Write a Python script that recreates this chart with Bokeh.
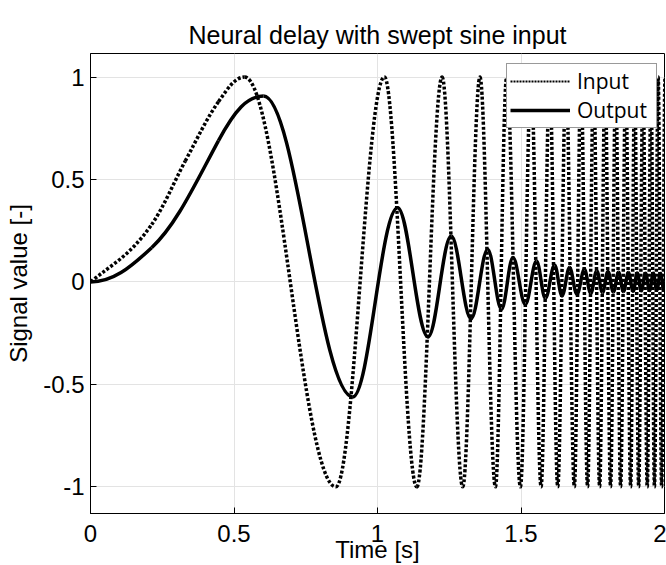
import numpy as np
from bokeh.plotting import figure
from bokeh.models import (ColumnDataSource, Legend, LegendItem, FixedTicker,
                          Range1d, Title)
from bokeh.embed import file_html
from bokeh.resources import INLINE

# ---------------- data ----------------
# Input (swept sine): knot times [s] and values [-]; knots after the first
# four are the extrema of the sweep (slope 0 there).
input_t = [0.000, 0.213, 0.330, 0.446, 0.537, 0.855, 1.024, 1.137, 1.225, 1.297,
           1.357, 1.411, 1.450, 1.498, 1.535, 1.570, 1.600, 1.628, 1.657, 1.686,
           1.709, 1.732, 1.753, 1.774, 1.793, 1.812, 1.830, 1.847, 1.865, 1.882,
           1.896, 1.910, 1.925, 1.940, 1.953, 1.965, 1.978, 1.990, 2.002]
input_v = [0.00, 0.28, 0.59, 0.88, 1, -1, 1, -1, 1, -1,
           1, -1, 1, -1, 1, -1, 1, -1, 1, -1,
           1, -1, 1, -1, 1, -1, 1, -1, 1, -1,
           1, -1, 1, -1, 1, -1, 1, -1, 1]
# slopes [1/s] of the rising start (knots before the first peak)
input_rise_slope = [1.15, 2.0, 2.6, 2.0]

# Output (delayed, attenuated response)
output_t = [0.000, 0.213, 0.446, 0.603, 0.914, 1.070, 1.176, 1.257, 1.326, 1.384,
            1.432, 1.472, 1.515, 1.554, 1.585, 1.617, 1.643, 1.669, 1.695, 1.721,
            1.743, 1.764, 1.784, 1.803, 1.822, 1.840, 1.857, 1.874, 1.891, 1.905,
            1.919, 1.934, 1.948, 1.961, 1.973, 1.986, 1.998, 2.010]
output_v = [0.000, 0.167, 0.690, 0.907, -0.561, 0.362, -0.268, 0.224, -0.180, 0.159,
            -0.133, 0.119, -0.109, 0.102, -0.080, 0.083, -0.068, 0.070, -0.060, 0.062,
            -0.056, 0.055, -0.052, 0.051, -0.049, 0.048, -0.047, 0.046, -0.045, 0.044,
            -0.043, 0.043, -0.042, 0.042, -0.041, 0.041, -0.040, 0.040]
output_rise_slope = [0.0, 1.3, 2.6]

x_ticks = [0.0, 0.5, 1.0, 1.5, 2.0]
x_tick_labels = ["0", "0.5", "1", "1.5", "2"]
y_ticks = [-1.0, -0.5, 0.0, 0.5, 1.0]
y_tick_labels = ["-1", "-0.5", "0", "0.5", "1"]

series_names = ["Input", "Output"]
title_text = "Neural delay with swept sine input"
x_label = "Time [s]"
y_label = "Signal value [-]"


def curve_source(t, v, rise_slope, k=0.364):
    """Cubic Bezier segments between consecutive knots (tangent at each knot)."""
    t = np.asarray(t, float)
    v = np.asarray(v, float)
    s = np.zeros_like(t)
    s[:len(rise_slope)] = rise_slope
    t0, t1 = t[:-1], t[1:]
    v0, v1 = v[:-1], v[1:]
    d = t1 - t0
    return ColumnDataSource(dict(
        x0=t0, y0=v0, x1=t1, y1=v1,
        cx0=t0 + k * d, cy0=v0 + s[:-1] * k * d,
        cx1=t1 - k * d, cy1=v1 - s[1:] * k * d))


FONT = "Liberation Sans"

x_range = Range1d(0, 2)
y_range = Range1d(-1.13, 1.115)
p = figure(width=666, height=565, output_backend="svg", toolbar_location=None,
           x_range=x_range, y_range=y_range,
           min_border_left=90, min_border_right=2, min_border_top=53,
           min_border_bottom=52, tools="")
p.background_fill_color = "white"
p.border_fill_color = "white"
p.outline_line_color = "black"
p.outline_line_width = 1

# grid
p.xgrid.ticker = FixedTicker(ticks=x_ticks)
p.ygrid.ticker = FixedTicker(ticks=y_ticks)
for g in (p.xgrid, p.ygrid):
    g.grid_line_color = "#e3e3e3"
    g.grid_line_width = 1

# axes
p.xaxis.ticker = FixedTicker(ticks=x_ticks)
p.yaxis.ticker = FixedTicker(ticks=y_ticks)
p.xaxis.major_label_overrides = dict(zip(x_ticks, x_tick_labels))
p.yaxis.major_label_overrides = dict(zip(y_ticks, y_tick_labels))
p.xaxis.axis_label = x_label
p.yaxis.axis_label = y_label
for ax in (p.xaxis[0], p.yaxis[0]):
    ax.major_tick_in = 6
    ax.major_tick_out = 0
    ax.minor_tick_in = 0
    ax.minor_tick_out = 0
    ax.axis_line_color = "black"
    ax.major_tick_line_color = "black"
    ax.major_label_text_font = FONT
    ax.major_label_text_font_size = "24px"
    ax.major_label_text_color = "black"
    ax.axis_label_text_font = FONT
    ax.axis_label_text_font_size = "24px"
    ax.axis_label_text_font_style = "normal"
    ax.axis_label_text_color = "black"
p.xaxis.major_label_standoff = 11
p.xaxis.axis_label_standoff = -9
p.xaxis.axis_label_text_line_height = 0.8
p.yaxis.major_label_standoff = 6
p.yaxis.axis_label_standoff = 8

title = Title(text=title_text, align="center", text_font=FONT, text_font_size="25px",
              text_font_style="normal", text_color="black", standoff=10)
p.add_layout(title, "above")

# curves
src_in = curve_source(input_t, input_v, input_rise_slope)
src_out = curve_source(output_t, output_v, output_rise_slope)
in_style = dict(line_color="black", line_width=3.5, line_dash="3 2")
out_style = dict(line_color="black", line_width=3.5)
p.bezier(x0="x0", y0="y0", x1="x1", y1="y1", cx0="cx0", cy0="cy0",
         cx1="cx1", cy1="cy1", source=src_in, **in_style)
p.bezier(x0="x0", y0="y0", x1="x1", y1="y1", cx0="cx0", cy0="cy0",
         cx1="cx1", cy1="cy1", source=src_out, **out_style)

# legend keys (one invisible NaN point each, styled like the curves)
key_in = p.line(x=[np.nan], y=[np.nan], line_color="black", line_width=2, line_dash="2 1")
key_out = p.line(x=[np.nan], y=[np.nan], line_color="black", line_width=3.5)
legend = Legend(items=[LegendItem(label=series_names[0], renderers=[key_in]),
                       LegendItem(label=series_names[1], renderers=[key_out])],
                location=(416, 385), margin=0, padding=3, spacing=1,
                glyph_width=60, glyph_height=24, label_height=24, label_width=76,
                label_standoff=7,
                label_text_font="Open Sans", label_text_font_size="21px",
                label_text_color="black",
                border_line_color="#333333", border_line_width=1,
                background_fill_color="white", background_fill_alpha=1.0)
p.add_layout(legend)

open("out.html", "w").write(file_html(p, INLINE))
